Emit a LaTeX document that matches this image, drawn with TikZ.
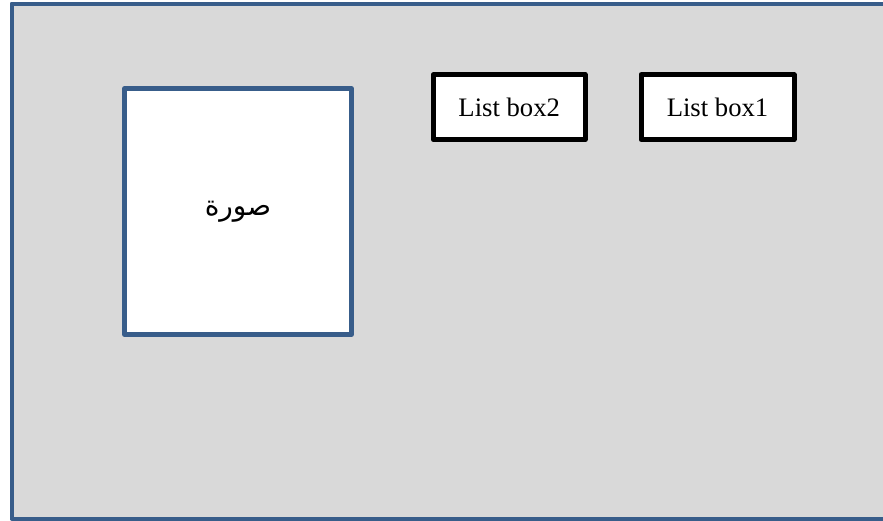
\documentclass[tikz,border=0pt]{standalone}
\usepackage{fontspec}
\setmainfont{Liberation Serif}
\newfontfamily\arabicfont[Script=Arabic]{DejaVu Sans}
\TeXXeTstate=1
\usepackage{xcolor}
\definecolor{frameblue}{RGB}{56,93,138}
\definecolor{panelgray}{RGB}{217,217,217}

\begin{document}
\begin{tikzpicture}[x=0.75pt,y=-0.75pt,
    listbox/.style={draw=black, fill=white, line width=3.75pt, line join=round, inner sep=0pt, outer sep=0pt, minimum height=48.8pt, font=\fontsize{20}{24}\selectfont},
    picbox/.style={draw=frameblue, fill=white, line width=3.4pt, line join=round, inner sep=0pt, outer sep=0pt, minimum width=170.25pt, minimum height=184.5pt}]
\useasboundingbox (0,0) rectangle (883,521);

% background panel
\draw[frameblue, fill=panelgray, line width=3pt, line join=round] (11.5,3.5) rectangle (900,518.5);

% picture placeholder
\node[picbox] (pic) at (238,211.5) {};
\node[font=\arabicfont\fontsize{21}{25}\selectfont] (piclabel) at (pic.center) {\beginR صورة\endR};

% list boxes
\foreach \i/\x/\w in {2/509.2/113.8, 1/717.5/114.75} {
    \node[listbox, minimum width=\w pt] (list\i) at (\x,107.2) {List box\i};
}

\end{tikzpicture}
\end{document}
